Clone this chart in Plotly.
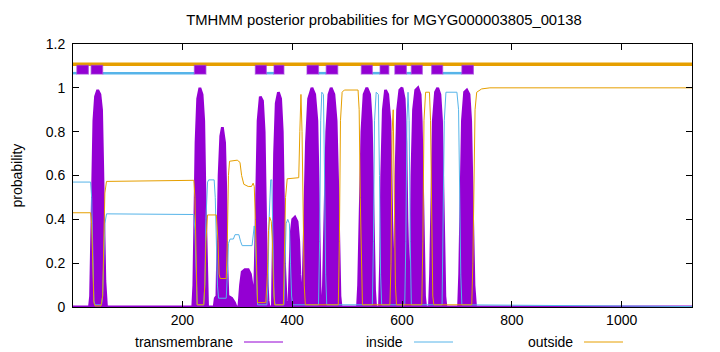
import plotly.graph_objects as go

# ---------------- data ----------------
seq_len = 1128

# transmembrane posterior probability (breakpoints)
tm_x = [1, 31, 33, 35, 37, 39, 42, 46, 50, 53, 55, 57, 59, 62,
        219, 221, 223, 225, 228, 232, 236, 239, 241, 243, 246,
        258, 260, 263, 265, 267, 270, 273, 277, 279, 281, 283, 290, 295, 298,
        303, 306, 309, 314, 320, 324, 327, 329, 331,
        333, 335, 338, 342, 346, 349, 351, 353, 356, 358,
        364, 366, 368, 371, 375, 379, 382, 384, 386, 389, 391,
        394, 396, 398, 401, 405, 409, 412, 414, 416, 418,
        420, 423, 426, 430, 436, 441, 445, 447, 449, 451, 453,
        455, 457, 460, 463, 467, 471, 476, 480, 483, 485, 487, 489,
        519, 521, 524, 527, 531, 536, 541, 544, 546, 548, 550, 552,
        559, 561, 563, 566, 570, 574, 578, 580, 582, 584,
        585, 587, 589, 592, 596, 600, 604, 607, 609, 611, 613,
        614, 616, 618, 621, 625, 629, 633, 635, 637, 639, 641, 643,
        650, 652, 654, 657, 661, 665, 669, 672, 674, 676, 678, 680,
        703, 705, 707, 710, 714, 718, 722, 725, 727, 729, 731, 734, 1128]
tm_y = [0, 0, 0.05, 0.3, 0.6, 0.85, 0.96, 0.99, 0.97, 0.9, 0.65, 0.35, 0.12, 0,
        0, 0.1, 0.4, 0.75, 0.95, 1.0, 0.97, 0.85, 0.55, 0.25, 0,
        0, 0.04, 0.05, 0.3, 0.6, 0.78, 0.82, 0.75, 0.55, 0.2, 0.05, 0.04, 0.02, 0,
        0, 0.1, 0.16, 0.17, 0.17, 0.15, 0.1, 0.03, 0,
        0.2, 0.55, 0.85, 0.96, 0.94, 0.8, 0.5, 0.2, 0.03, 0,
        0, 0.3, 0.7, 0.93, 0.98, 0.95, 0.8, 0.5, 0.2, 0.03, 0,
        0, 0.15, 0.33, 0.4, 0.41, 0.39, 0.3, 0.15, 0.04, 0,
        0.1, 0.4, 0.75, 0.95, 1.0, 0.97, 0.85, 0.6, 0.3, 0.05, 0,
        0, 0.1, 0.45, 0.8, 0.97, 1.0, 0.97, 0.85, 0.55, 0.25, 0.05, 0,
        0, 0.1, 0.45, 0.8, 0.97, 1.0, 0.97, 0.85, 0.6, 0.3, 0.08, 0,
        0, 0.2, 0.6, 0.9, 0.99, 0.97, 0.85, 0.6, 0.25, 0,
        0, 0.2, 0.6, 0.9, 0.99, 1.0, 0.95, 0.75, 0.4, 0.1, 0,
        0, 0.2, 0.6, 0.9, 0.99, 1.0, 0.97, 0.85, 0.6, 0.3, 0.05, 0,
        0, 0.15, 0.5, 0.85, 0.98, 1.0, 0.97, 0.85, 0.6, 0.3, 0.05, 0,
        0, 0.15, 0.5, 0.85, 0.98, 0.99, 0.97, 0.85, 0.6, 0.35, 0.1, 0, 0]

# inside posterior probability (breakpoints)
in_x = [1, 33, 35, 37, 39, 41, 53, 55, 57, 59, 62, 120, 221, 223, 225, 227,
        239, 241, 243, 246, 248, 258, 260, 262, 264, 266, 280, 282, 284, 287,
        293, 296, 303, 306, 309, 327, 329, 331, 333, 335, 337,
        354, 356, 358, 361, 363, 365, 367, 369, 385, 387, 389, 392, 395, 397,
        399, 401, 448, 450, 452, 454, 457, 459, 461, 463,
        546, 548, 550, 553, 557, 559, 561, 563,
        605, 607, 609, 611, 613, 615, 617,
        673, 675, 677, 680, 700, 703, 705, 707, 709, 1128]
in_y = [0.57, 0.57, 0.5, 0.2, 0.03, 0.01, 0.01, 0.05, 0.2, 0.38, 0.425, 0.425, 0.422,
        0.35, 0.1, 0.01, 0.01, 0.1, 0.4, 0.57, 0.58, 0.58, 0.5, 0.3, 0.1, 0.04,
        0.04, 0.15, 0.29, 0.31, 0.31, 0.33, 0.33, 0.3, 0.28, 0.28, 0.33, 0.37,
        0.3, 0.1, 0.01, 0.01, 0.1, 0.4, 0.58, 0.58, 0.3, 0.05, 0.01, 0.01, 0.2,
        0.38, 0.4, 0.38, 0.2, 0.05, 0.01, 0.01, 0.3, 0.85, 0.98, 0.97, 0.6,
        0.15, 0.01, 0.01, 0.3, 0.85, 0.98, 0.97, 0.6, 0.15, 0.01,
        0.01, 0.3, 0.85, 0.98, 0.85, 0.3, 0.01,
        0.01, 0.4, 0.85, 0.98, 0.98, 0.9, 0.5, 0.15, 0.01, 0.002]

# outside posterior probability (breakpoints)
out_x = [1, 33, 35, 37, 39, 41, 52, 55, 57, 59, 62, 120, 221, 223, 225, 227,
         239, 241, 243, 246, 262, 265, 267, 269, 280, 282, 284, 286, 300, 305,
         308, 312, 320, 326, 329, 331, 333, 335, 337, 352, 355, 357, 359, 362,
         364, 366, 368, 384, 386, 388, 391, 412, 414, 416, 418, 420, 422, 424,
         484, 486, 488, 491, 495, 520, 522, 524, 526, 528,
         578, 580, 582, 584, 586, 588, 590,
         636, 638, 640, 643, 650, 652, 654, 656, 658,
         727, 729, 731, 733, 736, 745, 760, 1128]
out_y = [0.43, 0.43, 0.38, 0.15, 0.02, 0.005, 0.005, 0.05, 0.3, 0.52, 0.573, 0.575,
         0.578, 0.5, 0.15, 0.01, 0.01, 0.1, 0.3, 0.42, 0.42, 0.3, 0.15, 0.13,
         0.13, 0.3, 0.6, 0.665, 0.67, 0.66, 0.6, 0.56, 0.55, 0.55, 0.565, 0.55,
         0.4, 0.15, 0.02, 0.02, 0.15, 0.35, 0.41, 0.39, 0.3, 0.1, 0.01, 0.01,
         0.2, 0.5, 0.585, 0.59, 0.8, 0.97, 0.8, 0.4, 0.1, 0.01,
         0.01, 0.3, 0.85, 0.98, 0.99, 0.99, 0.9, 0.5, 0.15, 0.01,
         0.01, 0.2, 0.8, 0.9, 0.5, 0.1, 0.01,
         0.01, 0.3, 0.85, 0.98, 0.98, 0.85, 0.4, 0.05, 0.01,
         0.01, 0.2, 0.6, 0.9, 0.98, 0.995, 1.0, 1.0]

# predicted topology shown above the curves
tm_seg_start = [8, 34, 222, 333, 367, 427, 462, 526, 560, 587, 617, 654, 709]
tm_seg_end = [29, 55, 243, 353, 385, 448, 483, 546, 576, 608, 637, 674, 730]
in_seg_start = [1, 55, 353, 448, 546, 608, 674]
in_seg_end = [8, 222, 367, 462, 560, 617, 709]
out_seg_start = [1]
out_seg_end = [seq_len]

x_ticks = [200, 400, 600, 800, 1000]
y_ticks = [0, 0.2, 0.4, 0.6, 0.8, 1.0, 1.2]
y_tick_labels = ["0", "0.2", "0.4", "0.6", "0.8", "1", "1.2"]

title_text = "TMHMM posterior probabilities for MGYG000003805_00138"
legend_names = ["transmembrane", "inside", "outside"]

# ---------------- styling ----------------
PURPLE = "#9400D3"
BLUE = "#56B4E9"
ORANGE = "#E69F00"
FONT = "Liberation Sans, Arial, sans-serif"

L, R, T, B = 73, 28, 44, 45
W, H = 720, 352
plot_w = W - L - R
plot_h = H - T - B

fig = go.Figure()

# top topology lines
ox, oy = [], []
for s, e in zip(out_seg_start, out_seg_end):
    ox += [s, e, None]
    oy += [1.108, 1.108, None]
fig.add_trace(go.Scatter(x=ox, y=oy, mode="lines", line=dict(color=ORANGE, width=3.5),
                         showlegend=False, hoverinfo="skip"))
ix, iy = [], []
for s, e in zip(in_seg_start, in_seg_end):
    ix += [s, e, None]
    iy += [1.067, 1.067, None]
fig.add_trace(go.Scatter(x=ix, y=iy, mode="lines", line=dict(color=BLUE, width=2.5),
                         showlegend=False, hoverinfo="skip"))
for s, e in zip(tm_seg_start, tm_seg_end):
    fig.add_shape(type="rect", xref="x", yref="y", x0=s, x1=e, y0=1.063, y1=1.103,
                  fillcolor=PURPLE, line=dict(color="rgba(160,60,220,0.6)", width=1.2),
                  layer="above")

# posterior curves
fig.add_trace(go.Scatter(x=tm_x, y=tm_y, mode="lines", fill="tozeroy", fillcolor=PURPLE,
                         line=dict(color=PURPLE, width=2.8), name=legend_names[0],
                         showlegend=False))
fig.add_trace(go.Scatter(x=in_x, y=in_y, mode="lines", line=dict(color=BLUE, width=1),
                         name=legend_names[1], showlegend=False))
fig.add_trace(go.Scatter(x=out_x, y=out_y, mode="lines", line=dict(color=ORANGE, width=1),
                         name=legend_names[2], showlegend=False))

# legend drawn below axis
legend_text_right = [235, 405, 575]
legend_line = [(244, 283), (414, 453), (584, 623)]
legend_colors = [PURPLE, BLUE, ORANGE]
ly = 342
for name, xr, (a, b), c in zip(legend_names, legend_text_right, legend_line, legend_colors):
    fig.add_annotation(xref="paper", yref="paper", x=(xr - L) / plot_w,
                       y=(H - B - ly) / plot_h, text=name, showarrow=False,
                       xanchor="right", yanchor="middle",
                       font=dict(family=FONT, size=14, color="#000"))
    fig.add_shape(type="line", xref="paper", yref="paper",
                  x0=(a - L) / plot_w, x1=(b - L) / plot_w,
                  y0=(H - B - ly) / plot_h, y1=(H - B - ly) / plot_h,
                  line=dict(color=c, width=1))

# y-axis label
fig.add_annotation(xref="paper", yref="paper", x=(16 - L) / plot_w, y=0.5,
                   text="probability", textangle=-90, showarrow=False,
                   xanchor="center", yanchor="middle",
                   font=dict(family=FONT, size=14, color="#000"))

fig.update_layout(
    width=W, height=H,
    margin=dict(l=L, r=R, t=T, b=B),
    paper_bgcolor="white", plot_bgcolor="white",
    font=dict(family=FONT, size=14, color="#000"),
    title=dict(text=title_text, x=(384 - L) / plot_w, xref="paper", xanchor="center",
               y=1 - 20 / H, yref="container", yanchor="middle",
               font=dict(family=FONT, size=14.8, color="#000")),
    showlegend=False,
    xaxis=dict(range=[1, seq_len], tickvals=x_ticks, ticks="inside", ticklen=6,
               tickcolor="#000", showline=True, linecolor="#000", linewidth=1,
               mirror="ticks", showgrid=False, zeroline=False,
               tickfont=dict(family=FONT, size=14)),
    yaxis=dict(range=[0, 1.2], tickvals=y_ticks, ticktext=y_tick_labels,
               ticks="inside", ticklen=6, tickcolor="#000", showline=True,
               linecolor="#000", linewidth=1, mirror="ticks", showgrid=False,
               zeroline=False, ticklabelstandoff=4, tickfont=dict(family=FONT, size=14)),
)

fig.write_html("out.html")
